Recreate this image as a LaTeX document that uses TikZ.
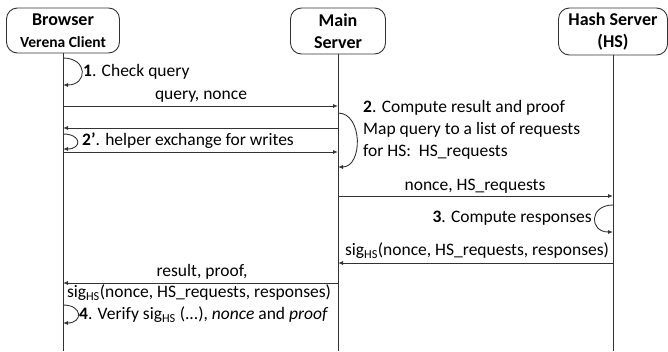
\documentclass[tikz,border=0pt]{standalone}
\usepackage{fontspec}
\setmainfont{Carlito}
\usetikzlibrary{arrows.meta}
\begin{document}
\begin{tikzpicture}[x=1pt,y=-1pt,
  line/.style={draw=black!80, line width=0.9pt},
  msg/.style={line, -{Latex[length=5pt,width=4pt]}},
  actor/.style={line, rounded corners=11pt, inner sep=0pt, align=center,
    font=\fontsize{18}{21.5}\selectfont\bfseries},
  lbl/.style={inner sep=0pt, font=\fontsize{17.5}{22}\selectfont}]
\useasboundingbox (0,0) rectangle (668,351);

% actors
\node[actor, minimum width=113pt, minimum height=45pt] (br) at (63,30.5)
  {Browser\\{\fontsize{15.5}{21.5}\selectfont Verena Client}};
\node[actor, minimum width=95pt, minimum height=46pt] (ms) at (338,31)
  {Main\\Server};
\node[actor, minimum width=109pt, minimum height=47pt] (hs) at (613,31.5)
  {Hash Server\\(HS)};

% lifeline ends
\coordinate (brE) at (63,351);
\coordinate (msE) at (338,351);
\coordinate (hsE) at (613,351);
\draw[line] (br.south) -- (brE);
\draw[line] (ms.south) -- (msE);
\draw[line] (hs.south) -- (hsE);

% points on lifelines
\coordinate (b58) at (63,58);   \coordinate (b85) at (63,85);
\coordinate (b106) at (63,106); \coordinate (m106) at (338,106);
\coordinate (m128) at (338,128); \coordinate (b128) at (63,128);
\coordinate (b134) at (63,134); \coordinate (b149) at (63,149);
\coordinate (b152) at (63,152); \coordinate (m152) at (338,152);
\coordinate (m113) at (338,113); \coordinate (m167) at (338,167);
\coordinate (m196) at (338,196); \coordinate (h196) at (613,196);
\coordinate (h205) at (613,205); \coordinate (h232) at (613,232);
\coordinate (h263) at (613,263); \coordinate (m263) at (338,263);
\coordinate (m283) at (338,283); \coordinate (b283) at (63,283);
\coordinate (b305) at (63,305); \coordinate (b323) at (63,323);

% step 1
\draw[msg] (b58) .. controls +(25,0) and +(25,0) .. (b85);
\node[lbl, anchor=west] (t1) at (83,72) {\textbf{1}. Check query};

% query, nonce
\draw[msg] (b106) -- (m106);
\node[lbl] (t2) at (201,97) {query, nonce};

% helper exchange
\draw[msg] (m128) -- (b128);
\draw[msg] (b134) .. controls +(19,0) and +(19,0) .. (b149);
\draw[msg] (b152) -- (m152);
\node[lbl, anchor=west] (t3) at (82,141) {\textbf{2’}. helper exchange for writes};

% step 2
\draw[msg] (m113) .. controls +(25,0) and +(25,0) .. (m167);
\node[lbl, anchor=west, align=left] (t4) at (363,130)
  {\textbf{2}. Compute result and proof\\Map query to a list of requests\\for HS:\ \ HS\_requests};

% nonce, HS_requests
\draw[msg] (m196) -- (h196);
\node[lbl] (t5) at (475,186) {nonce,\ HS\_requests};

% step 3
\draw[msg] (h205) .. controls +(-24,0) and +(-24,0) .. (h232);
\node[lbl, anchor=east] (t6) at (592,218) {\textbf{3}. Compute responses};

% sig from HS
\draw[msg] (h263) -- (m263);
\node[lbl] (t7) at (477,251) {sig\textsubscript{HS}(nonce, HS\_requests,\ responses)};

% result to browser
\draw[msg] (m283) -- (b283);
\node[lbl] (t8) at (202,272) {result, proof,};
\node[lbl] (t9) at (199,293) {sig\textsubscript{HS}(nonce, HS\_requests,\ responses)};

% step 4
\draw[msg] (b305) .. controls +(20,0) and +(20,0) .. (b323);
\node[lbl, anchor=west] (t10) at (79,315) {\textbf{4}. Verify sig\textsubscript{HS}\ (...), \textit{nonce} and \textit{proof}};
\end{tikzpicture}
\end{document}
